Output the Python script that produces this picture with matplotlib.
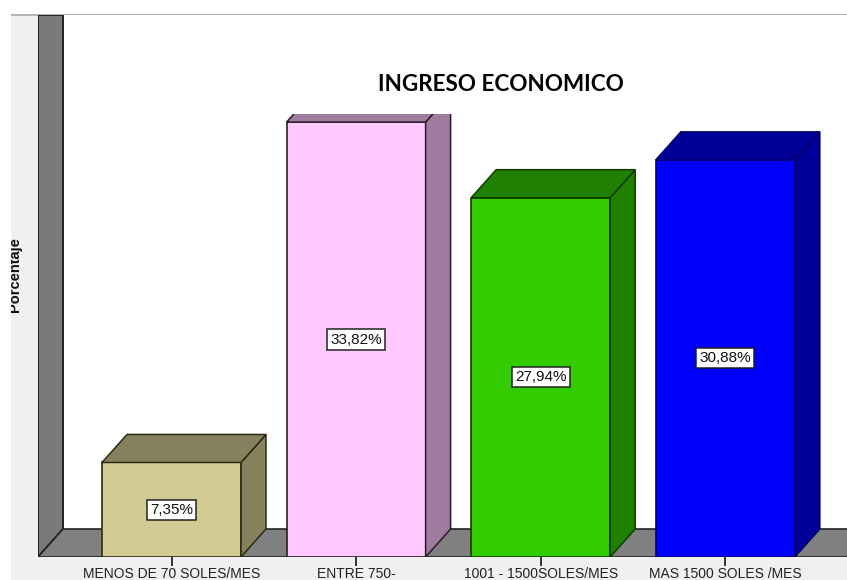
import matplotlib
matplotlib.use("Agg")
import matplotlib.pyplot as plt
from matplotlib.patches import Polygon, Rectangle
from matplotlib.transforms import IdentityTransform

categories = ["MENOS DE 70 SOLES/MES", "ENTRE 750-", "1001 - 1500SOLES/MES", "MAS 1500 SOLES /MES"]
values = [7.35, 33.82, 27.94, 30.88]
labels = ["7,35%", "33,82%", "27,94%", "30,88%"]
front = ["#D2CC94", "#FFC8FF", "#33CC00", "#0000FF"]
side = ["#84815C", "#9F7C9F", "#208000", "#000099"]
top = ["#84815C", "#9F7C9F", "#208000", "#000099"]
edge = ["#2B2A18", "#2B1B2B", "#0F3D00", "#000066"]

W, H = 847, 580
L, R, T, B = 38, 847, 15, 557
PX_X, PX_Y = 184.6, 12.86
X0 = 171.5
DX, DY = 25 / PX_X, 28 / PX_Y
BW = 139 / PX_X

fig = plt.figure(figsize=(W / 100, H / 100), dpi=100, facecolor="white")
fig.patches.append(Rectangle((11 / W, 0), 1, 1 - T / H, transform=fig.transFigure, fc="#F0F0F0", ec="none", zorder=-5))
fig.patches.append(Rectangle((11 / W, 1 - T / H - 1 / H), 1, 2 / H, transform=fig.transFigure, fc="#B4B4B4", ec="none", zorder=-4))
ax = fig.add_axes([L / W, 1 - B / H, (R - L) / W, (B - T) / H])
ax.set_xlim((L - X0) / PX_X, (R - X0) / PX_X)
ax.set_ylim(0, (B - T) / PX_Y)
ax.set_facecolor("white")
for s in ax.spines.values():
    s.set_visible(False)
xa, xb = ax.get_xlim()
ya, yb = ax.get_ylim()

# wall and floor
ax.add_patch(Polygon([(xa, ya), (xa + DX, DY), (xa + DX, yb), (xa, yb)], fc="#7A7A7A", ec="#222222", lw=1.4, zorder=1))
ax.add_patch(Polygon([(xa, ya), (xb + 1, ya), (xb + 1, DY), (xa + DX, DY)], fc="#808080", ec="#222222", lw=1.2, zorder=1))

for i, v in enumerate(values):
    l, r = i - BW / 2, i + BW / 2
    z = 3 + i
    ax.add_patch(Rectangle((l, 0), BW, v, fc=front[i], ec=edge[i], lw=1.2, zorder=z))
    ax.add_patch(Polygon([(r, 0), (r + DX, DY), (r + DX, v + DY), (r, v)], fc=side[i], ec=edge[i], lw=1.1, zorder=z))
    ax.add_patch(Polygon([(l, v), (l + DX, v + DY), (r + DX, v + DY), (r, v)], fc=top[i], ec=edge[i], lw=1.1, zorder=z))
    ax.text(i, v / 2, labels[i], ha="center", va="center", fontsize=11, family="Liberation Sans", color="#111111", zorder=12,
            bbox=dict(boxstyle="square,pad=0.2", fc="white", ec="#222222", lw=1.1))

# the picture is cropped just above the tall bar
ax.add_patch(Rectangle((280, H - 114), 190, 60, transform=IdentityTransform(), fc="white", ec="none", zorder=10))

ax.set_yticks([])
ax.set_xticks(range(4))
ax.set_xticklabels(categories, fontsize=10, family="Liberation Sans", color="#222222")
ax.tick_params(axis="x", length=6.5, width=1.4, color="#333333", pad=1)

fig.text(501 / W, 1 - 84 / H, "INGRESO ECONOMICO", ha="center", va="center", fontsize=16.2, fontweight="bold", family="Lato", color="#000000")
fig.text(15 / W, 1 - 275 / H, "Porcentaje", rotation=90, ha="center", va="center", fontsize=10.5, fontweight="bold", family="Liberation Sans", color="#111111")
fig.patches.append(Rectangle((0, 0), 11 / W, 1, transform=fig.transFigure, fc="white", ec="none", zorder=5))
fig.savefig("out.png", dpi=100)
